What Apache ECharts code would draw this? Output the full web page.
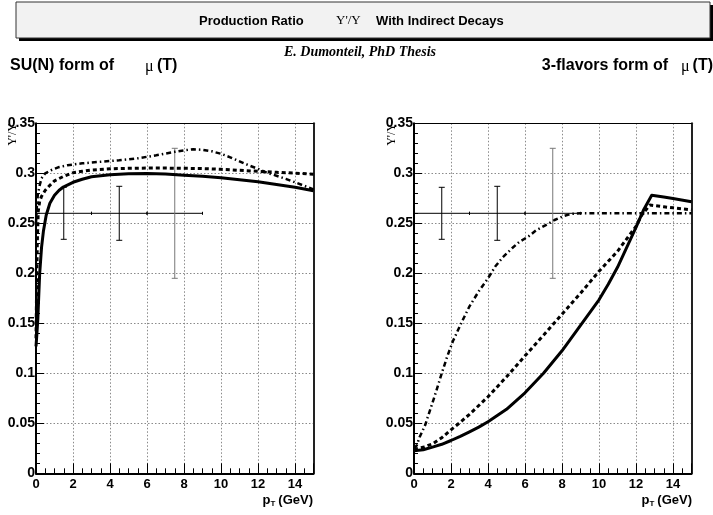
<!DOCTYPE html>
<html><head><meta charset="utf-8">
<script src="https://cdn.jsdelivr.net/npm/echarts/dist/echarts.min.js"></script>
<style>html,body{margin:0;padding:0;background:#fff}#c{width:713px;height:515px}</style>
</head><body><div id="c"></div>
<script>
// ---- data ----
const yTickValues = [0, 0.05, 0.1, 0.15, 0.2, 0.25, 0.3, 0.35];
const xTickValues = [0, 2, 4, 6, 8, 10, 12, 14];

// SU(N) form of mu(T)
const suSolid = [[0,0.127],[0.05,0.14],[0.1,0.155],[0.15,0.178],[0.2,0.2],[0.3,0.226],[0.4,0.242],[0.55,0.258],[0.75,0.27],[1,0.278],[1.25,0.283],[1.5,0.2865],[2,0.291],[2.5,0.294],[3,0.2965],[4,0.2985],[5,0.2995],[6,0.2998],[7,0.2993],[8,0.298],[9,0.297],[10,0.2955],[11,0.2935],[12,0.2915],[13,0.2888],[14,0.286],[15,0.2826]];
const suDashed = [[0,0.135],[0.03,0.18],[0.07,0.23],[0.12,0.262],[0.2,0.272],[0.3,0.277],[0.5,0.283],[0.75,0.288],[1,0.2925],[1.5,0.297],[2,0.3005],[2.5,0.302],[3,0.3033],[4,0.3045],[5,0.305],[6,0.3052],[7,0.3052],[8,0.305],[9,0.3047],[10,0.304],[11,0.303],[12,0.302],[13,0.301],[14,0.3002],[15,0.299]];
const suDashDot = [[0,0.25],[0.05,0.268],[0.1,0.279],[0.2,0.288],[0.3,0.295],[0.5,0.3],[0.8,0.303],[1.2,0.306],[1.7,0.308],[2.5,0.31],[3.5,0.3115],[4.5,0.313],[5.5,0.315],[6.5,0.318],[7.5,0.3215],[8,0.323],[8.5,0.324],[9,0.3235],[9.5,0.322],[10,0.3195],[10.5,0.316],[11,0.312],[11.5,0.308],[12,0.3045],[12.5,0.3005],[13,0.2975],[13.5,0.2945],[14,0.291],[14.5,0.2875],[15,0.284]];

// 3-flavors form of mu(T)
const flSolid = [[0,0.0225],[0.5,0.0235],[1,0.0262],[1.5,0.029],[2,0.0328],[2.5,0.037],[3,0.0415],[3.5,0.0462],[4,0.0515],[5,0.064],[6,0.0805],[7,0.1],[8,0.1225],[9,0.148],[10,0.1735],[10.5,0.189],[11,0.206],[11.5,0.226],[12,0.246],[12.4,0.263],[12.85,0.278],[13.5,0.2762],[14,0.2747],[15,0.2716]];
const flDashed = [[0,0.024],[0.5,0.026],[1,0.0295],[1.5,0.0355],[2,0.0435],[2.5,0.051],[3,0.059],[4,0.0765],[5,0.0965],[6,0.1175],[7,0.138],[8,0.159],[9,0.18],[10,0.202],[11,0.222],[12,0.247],[12.3,0.258],[12.75,0.2683],[13.5,0.2665],[14,0.2655],[15,0.2635]];
const flDashDot = [[0,0.025],[0.15,0.028],[0.3,0.036],[0.6,0.048],[0.9,0.065],[1.2,0.082],[1.5,0.1],[1.8,0.117],[2.1,0.132],[2.6,0.152],[3,0.167],[3.5,0.182],[4,0.195],[4.4,0.207],[4.8,0.216],[5.3,0.225],[5.7,0.2315],[6.2,0.237],[6.6,0.243],[7.2,0.249],[7.6,0.2533],[8.1,0.2573],[8.5,0.2595],[9,0.26],[15,0.26]];

// measured points with error bars
const errX    = [1.5, 4.5, 7.5];
const errXLow = [0, 3, 6];
const errXHigh= [3, 6, 9];
const errY    = [0.26, 0.26, 0.26];
const errYLow = [0.234, 0.233, 0.195];
const errYHigh= [0.286, 0.287, 0.325];

// ---- chart ----
const SANS = 'Liberation Sans, Arial, sans-serif';
const SERIF = 'Liberation Serif, Times New Roman, serif';
const errData = errX.map((x, i) => [x, errY[i], errXLow[i], errXHigh[i], errYLow[i], errYHigh[i]]);

function renderErr(params, api) {
  const x = api.value(0), y = api.value(1);
  const pL = api.coord([api.value(2), y]), pR = api.coord([api.value(3), y]);
  const pT = api.coord([x, api.value(5)]), pB = api.coord([x, api.value(4)]);
  const vcol = params.dataIndex === 2 ? '#777' : '#000';
  const ln = (x1, y1, x2, y2, c) => ({type: 'line', shape: {x1, y1, x2, y2}, style: {stroke: c, lineWidth: 1}});
  return {type: 'group', children: [
    ln(pL[0], pL[1], pR[0], pR[1], '#000'),
    ln(pL[0], pL[1] - 1.5, pL[0], pL[1] + 1.5, '#000'),
    ln(pR[0], pR[1] - 1.5, pR[0], pR[1] + 1.5, '#000'),
    ln(pT[0], pT[1], pB[0], pB[1], vcol),
    ln(pT[0] - 3, pT[1], pT[0] + 3, pT[1], vcol),
    ln(pB[0] - 3, pB[1], pB[0] + 3, pB[1], vcol)
  ]};
}

const gridLine = {show: true, lineStyle: {color: '#8a8a8a', width: 1, type: [1.5, 2]}};
function xBottom(i) {
  return {gridIndex: i, type: 'value', min: 0, max: 15, interval: 2,
    axisLine: {show: true, onZero: false, lineStyle: {color: '#000', width: 2}},
    axisTick: {show: true, inside: true, length: 10, lineStyle: {color: '#000', width: 1}},
    minorTick: {show: true, splitNumber: 4, length: 5, lineStyle: {color: '#000', width: 1}},
    axisLabel: {color: '#000', fontWeight: 'bold', fontSize: 13, fontFamily: SANS, margin: 5, showMaxLabel: false,
      formatter: v => (xTickValues.indexOf(v) >= 0 ? String(v) : '')},
    splitLine: gridLine};
}
function xTop(i) {
  return {gridIndex: i, type: 'value', position: 'top', min: 0, max: 15,
    axisLine: {show: true, onZero: false, lineStyle: {color: '#000', width: 1}},
    axisTick: {show: false}, axisLabel: {show: false}, splitLine: {show: false}};
}
function yLeft(i) {
  return {gridIndex: i, type: 'value', min: 0, max: 0.35, interval: 0.05,
    axisLine: {show: true, onZero: false, lineStyle: {color: '#000', width: 2}},
    axisTick: {show: true, inside: true, length: 8, lineStyle: {color: '#000', width: 1}},
    minorTick: {show: true, splitNumber: 5, length: 4, lineStyle: {color: '#000', width: 1}},
    axisLabel: {color: '#000', fontWeight: 'bold', fontSize: 14, fontFamily: SANS, margin: 1,
      formatter: v => { const r = Math.round(v * 100) / 100; return yTickValues.indexOf(r) >= 0 ? String(r) : ''; }},
    splitLine: gridLine};
}
function yRight(i) {
  return {gridIndex: i, type: 'value', position: 'right', min: 0, max: 0.35,
    axisLine: {show: true, onZero: false, lineStyle: {color: '#222', width: 2}},
    axisTick: {show: false}, axisLabel: {show: false}, splitLine: {show: false}};
}
function lineSeries(data, axisIdx, type, width) {
  return {type: 'line', data: data, xAxisIndex: axisIdx, yAxisIndex: axisIdx, showSymbol: false, symbol: 'none',
    smooth: false, animation: false, silent: true, z: 3,
    lineStyle: {color: '#000', width: width, type: type, cap: 'butt', join: 'round'}};
}
function errSeries(axisIdx) {
  return {type: 'custom', xAxisIndex: axisIdx, yAxisIndex: axisIdx, data: errData, renderItem: renderErr,
    encode: {x: [0, 2, 3], y: [1, 4, 5]}, animation: false, silent: true, z: 2};
}

const DASH = [4, 3];
const DASHDOT = [5, 3, 1.5, 3];

const option = {
  backgroundColor: '#fff',
  animation: false,
  grid: [
    {left: 36, top: 123.3, width: 277.5, height: 350},
    {left: 414, top: 123.3, width: 277.5, height: 350}
  ],
  xAxis: [xBottom(0), xBottom(1), xTop(0), xTop(1)],
  yAxis: [yLeft(0), yLeft(1), yRight(0), yRight(1)],
  series: [
    errSeries(0),
    lineSeries(suDashDot, 0, DASHDOT, 2.5),
    lineSeries(suDashed, 0, DASH, 3),
    lineSeries(suSolid, 0, 'solid', 3),
    errSeries(1),
    lineSeries(flDashDot, 1, DASHDOT, 2.5),
    lineSeries(flDashed, 1, DASH, 3),
    lineSeries(flSolid, 1, 'solid', 3)
  ],
  graphic: [
    {type: 'rect', shape: {x: 19, y: 5, width: 694, height: 36}, style: {fill: '#000'}, z: 10},
    {type: 'rect', shape: {x: 16, y: 2, width: 694, height: 36}, style: {fill: '#f2f2f2', stroke: '#333', lineWidth: 1}, z: 11},
    {type: 'text', x: 199, y: 21, z: 12, style: {text: 'Production Ratio', font: 'bold 13px ' + SANS, fill: '#000', verticalAlign: 'middle'}},
    {type: 'text', x: 336, y: 21, z: 12, style: {text: "Υ'/Υ", font: '13px ' + SERIF, fill: '#000', verticalAlign: 'middle'}},
    {type: 'text', x: 376, y: 21, z: 12, style: {text: 'With Indirect Decays', font: 'bold 13px ' + SANS, fill: '#000', verticalAlign: 'middle'}},
    {type: 'text', x: 360, y: 52, z: 12, style: {text: 'E. Dumonteil, PhD Thesis', font: 'italic bold 14px ' + SERIF, fill: '#000', align: 'center', verticalAlign: 'middle'}},
    {type: 'text', x: 10, y: 66, z: 12, style: {text: 'SU(N) form of', font: 'bold 16px ' + SANS, fill: '#000', verticalAlign: 'middle'}},
    {type: 'text', x: 145, y: 67, z: 12, style: {text: 'μ', font: '16px ' + SERIF, fill: '#000', verticalAlign: 'middle'}},
    {type: 'text', x: 157, y: 66, z: 12, style: {text: '(T)', font: 'bold 16px ' + SANS, fill: '#000', verticalAlign: 'middle'}},
    {type: 'text', x: 668, y: 66, z: 12, style: {text: '3-flavors form of', font: 'bold 16px ' + SANS, fill: '#000', align: 'right', verticalAlign: 'middle'}},
    {type: 'text', x: 681, y: 67, z: 12, style: {text: 'μ', font: '16px ' + SERIF, fill: '#000', verticalAlign: 'middle'}},
    {type: 'text', x: 713, y: 66, z: 12, style: {text: '(T)', font: 'bold 16px ' + SANS, fill: '#000', align: 'right', verticalAlign: 'middle'}},
    // y-axis titles
    {type: 'text', x: 13, y: 123, rotation: Math.PI / 2, z: 12, style: {text: "Υ'/Υ", font: '12px ' + SERIF, fill: '#000', align: 'right', verticalAlign: 'middle'}},
    {type: 'text', x: 392, y: 123, rotation: Math.PI / 2, z: 12, style: {text: "Υ'/Υ", font: '12px ' + SERIF, fill: '#000', align: 'right', verticalAlign: 'middle'}},
    // x-axis titles
    {type: 'text', x: 313, y: 500, z: 12, style: {text: '{p|p}{t|T}{p|(GeV)}', align: 'right', verticalAlign: 'middle',
      rich: {p: {font: 'bold 13px ' + SANS, fill: '#000', lineHeight: 16, verticalAlign: 'middle'}, t: {font: 'bold 8px ' + SANS, fill: '#000', lineHeight: 16, verticalAlign: 'bottom', padding: [0, 3, 0, 0]}}}},
    {type: 'text', x: 692, y: 500, z: 12, style: {text: '{p|p}{t|T}{p|(GeV)}', align: 'right', verticalAlign: 'middle',
      rich: {p: {font: 'bold 13px ' + SANS, fill: '#000', lineHeight: 16, verticalAlign: 'middle'}, t: {font: 'bold 8px ' + SANS, fill: '#000', lineHeight: 16, verticalAlign: 'bottom', padding: [0, 3, 0, 0]}}}}
  ]
};
const chart = echarts.init(document.getElementById('c'), null, {renderer: 'canvas'});
chart.setOption(option);
</script></body></html>
